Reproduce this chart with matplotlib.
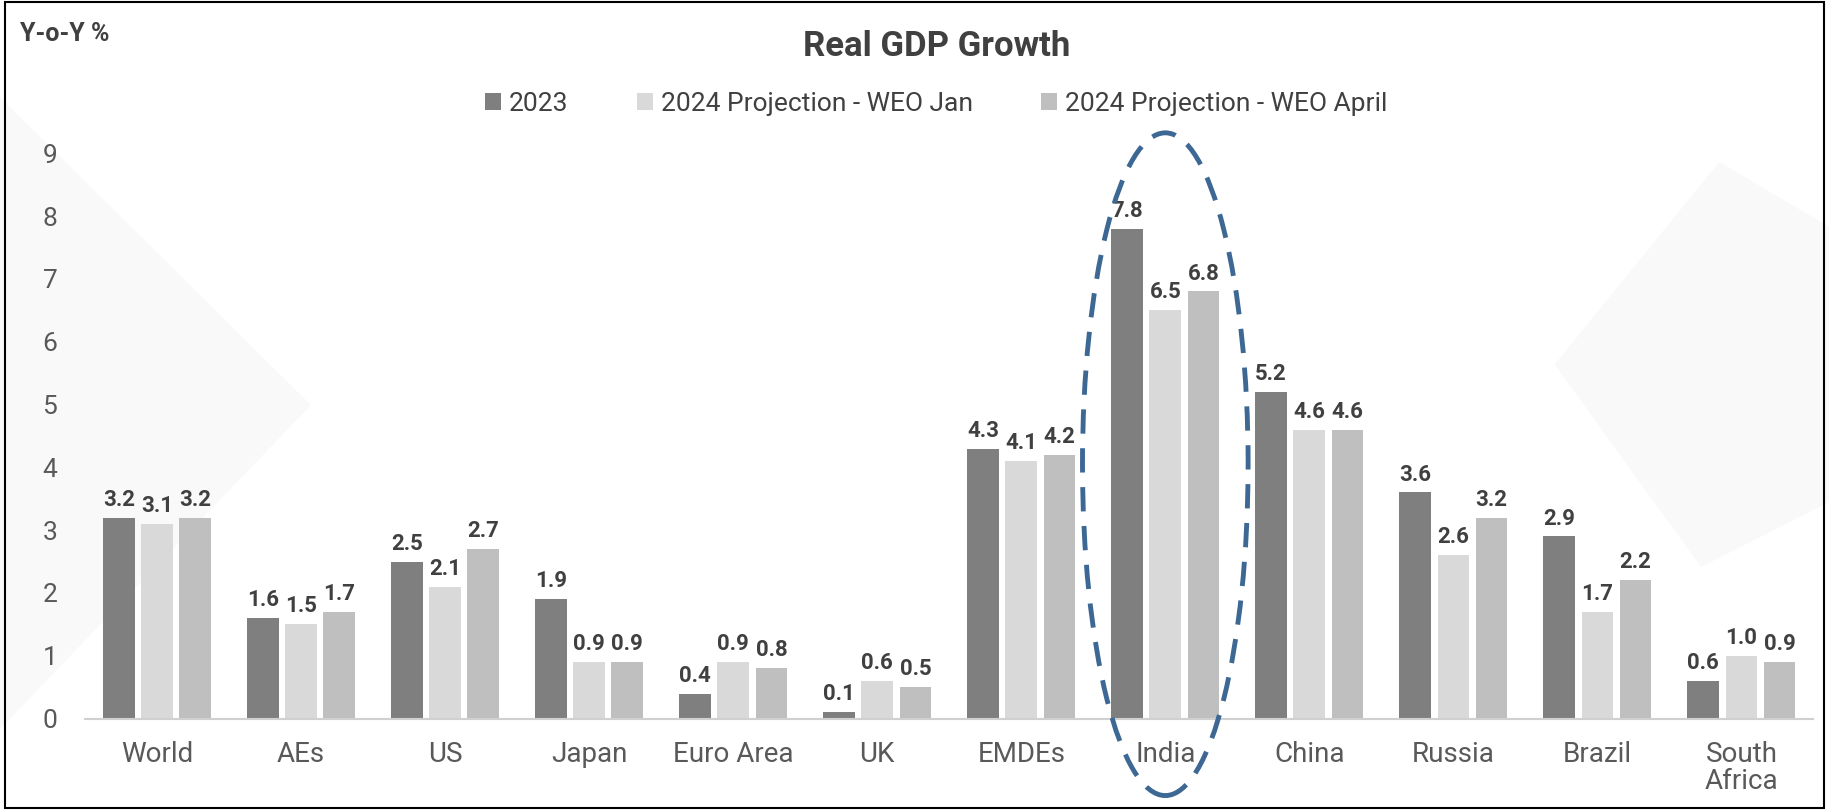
import matplotlib.pyplot as plt
import numpy as np
from matplotlib.patches import Ellipse, Polygon, Rectangle

plt.rcParams['font.family'] = ['Roboto', 'DejaVu Sans']

# data
categories = ['World', 'AEs', 'US', 'Japan', 'Euro Area', 'UK', 'EMDEs',
              'India', 'China', 'Russia', 'Brazil', 'South\nAfrica']
series_names = ['2023', '2024 Projection - WEO Jan',
                '2024 Projection - WEO April']
gdp_2023 = [3.2, 1.6, 2.5, 1.9, 0.4, 0.1, 4.3, 7.8, 5.2, 3.6, 2.9, 0.6]
proj_jan = [3.1, 1.5, 2.1, 0.9, 0.9, 0.6, 4.1, 6.5, 4.6, 2.6, 1.7, 1.0]
proj_apr = [3.2, 1.7, 2.7, 0.9, 0.8, 0.5, 4.2, 6.8, 4.6, 3.2, 2.2, 0.9]
yticks = list(range(0, 10))

colours = ['#7f7f7f', '#d9d9d9', '#bfbfbf']

fig = plt.figure(figsize=(18.29, 8.10), dpi=100)

# faint background shapes (kept behind everything)
bg = fig.add_axes([0, 0, 1, 1], zorder=-10)
bg.set_axis_off()
bg.set_xlim(0, 1)
bg.set_ylim(0, 1)
bg.add_patch(Polygon([[0.0, 0.88], [0.17, 0.50], [0.0, 0.10]],
                     closed=True, facecolor='#f9f9f9', edgecolor='none'))
bg.add_patch(Polygon([[0.85, 0.55], [0.94, 0.80], [1.0, 0.72],
                      [1.0, 0.38], [0.93, 0.30]],
                     closed=True, facecolor='#f9f9f9', edgecolor='none'))
# outer border
bg.add_patch(Rectangle((0.003, 0.003), 0.994, 0.994, fill=False,
                       edgecolor='black', linewidth=1.5))

ax = fig.add_axes([0.0465, 0.1128, 0.945, 0.698])
ax.patch.set_alpha(0)

x = np.arange(len(categories))
width = 0.22
offset = 0.265
for i, vals in enumerate([gdp_2023, proj_jan, proj_apr]):
    bars = ax.bar(x + (i - 1) * offset, vals, width=width, color=colours[i],
                  label=series_names[i], zorder=2)
    ax.bar_label(bars, labels=['%.1f' % v for v in vals], padding=5,
                 fontsize=16, fontweight='bold', color='#404040')

ax.set_xlim(-0.5, 11.5)
ax.set_ylim(0, 9)
ax.set_yticks(yticks)
ax.set_xticks(x)
ax.set_xticklabels(categories, fontsize=20, color='#595959',
                   linespacing=1.0)
ax.tick_params(axis='y', labelsize=19, labelcolor='#595959', length=0,
               pad=20)
ax.tick_params(axis='x', length=0, pad=16)
for s in ['top', 'right', 'left']:
    ax.spines[s].set_visible(False)
ax.spines['bottom'].set_color('#d0d0d0')
ax.spines['bottom'].set_linewidth(1.5)

# dashed highlight around India
ell = Ellipse((7, 4.05), 1.15, 10.55, fill=False, edgecolor='#3d6894',
              linewidth=3.5, linestyle=(0, (5, 3)), clip_on=False,
              zorder=4)
ax.add_patch(ell)

fig.text(0.512, 0.942, 'Real GDP Growth', ha='center', va='center',
         fontsize=25, fontweight='bold', color='#404040')
fig.text(0.011, 0.958, 'Y-o-Y %', ha='left', va='center', fontsize=18,
         fontweight='bold', color='#404040')

fig.legend(loc='center', bbox_to_anchor=(0.512, 0.872), ncol=3,
           frameon=False, fontsize=19, labelcolor='#404040',
           handlelength=0.6, handleheight=0.6, handletextpad=0.3,
           columnspacing=2.6)

fig.savefig('out.png', dpi=100)
